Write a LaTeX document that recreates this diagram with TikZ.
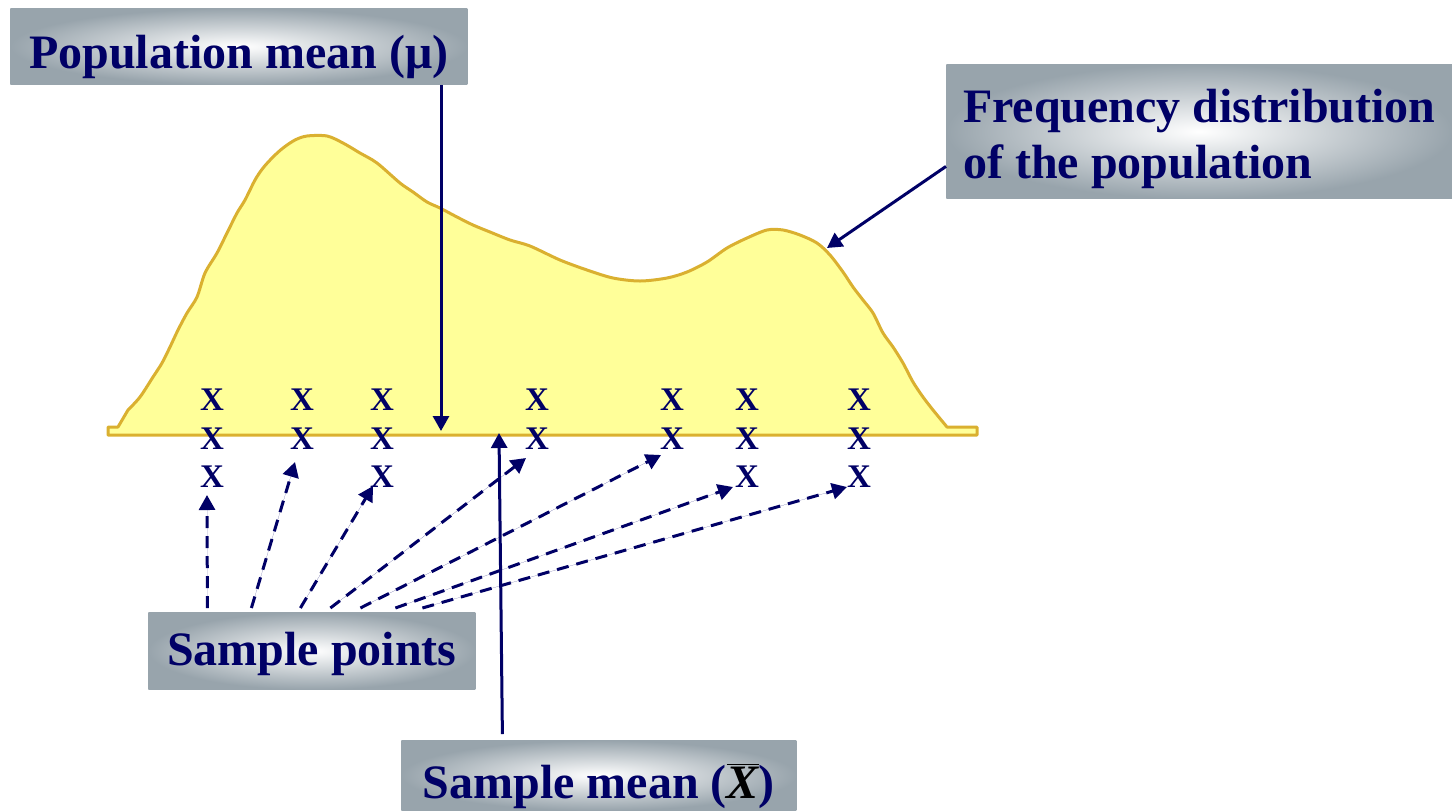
\documentclass[tikz,border=0pt]{standalone}
\usepackage{fontspec}
\setmainfont{Liberation Serif}
\usetikzlibrary{arrows.meta,calc}

\definecolor{navy}{RGB}{0,0,102}
\definecolor{boxgray}{RGB}{152,164,172}
\definecolor{curvefill}{RGB}{255,255,153}
\definecolor{curveline}{RGB}{218,176,48}

\begin{document}
\begin{tikzpicture}[x=0.5pt, y=-0.5pt, >={Triangle[length=7.5pt,width=8pt]},
  labelbox/.style={inner color=white, outer color=boxgray, anchor=north west,
    inner xsep=0pt, inner ysep=0pt, text=navy,
    font=\fontsize{24}{28}\selectfont\bfseries},
  xmark/.style={inner sep=0pt, text=navy, font=\fontsize{16.5}{18}\selectfont\bfseries},
  pointer/.style={->, line width=1.5pt, draw=navy, fill=navy},
  samplelink/.style={pointer, dash pattern=on 6pt off 4pt}]
  % picture size = 1452 x 810 px
  \useasboundingbox (0,0) rectangle (1452,810);

  % 1. Population frequency distribution
  \draw[line width=1.5pt, draw=curveline, fill=curvefill, line join=round]
    (108,435) -- (108,427) -- (118,427) -- plot[smooth] coordinates {
      (128,410) (140,397) (153,377) (162,363) (170,347) (178,330) (187,313)
      (197,297) (205,273) (217,253) (227,233) (237,213) (245,200) (255,180)
      (263,168) (273,157) (283,148) (295,140) (307,136) (327,136) (343,143)
      (360,153) (377,163) (400,183) (413,192) (427,202) (440,208) (457,217)
      (473,225) (490,232) (510,240) (530,246) (560,260) (587,270) (613,278)
      (640,281) (667,278) (687,272) (707,262) (727,248) (747,238) (767,230)
      (783,230) (800,235) (817,243) (830,255) (843,272) (853,287) (863,300)
      (873,313) (883,333) (893,347) (903,363) (913,382) (923,397) (933,410)
      (947,427)}
    -- (977,427) -- (977,435) -- cycle;

  % 2. Sample points (column x / number of marks)
  \foreach \cx/\n in {212/3, 302/2, 382/3, 537/2, 672/2, 747/3, 859/3} {
    \foreach \r in {1,...,\n} {
      \node[xmark] (x-\cx-\r) at (\cx, {400+38.5*(\r-1)}) {X};
    }
  }

  % 3. Label boxes
  \node[labelbox, minimum width=228.5pt, text height=30pt, text depth=8pt]
    (popbox) at (10,8) {Population mean (μ)};
  \node[labelbox, minimum width=253pt, align=left]
    (freqbox) at (946,64)
    {\rule{0pt}{29pt}Frequency distribution\\of the population\rule[-10pt]{0pt}{10pt}};
  \node[labelbox, minimum width=163.5pt, text height=26.5pt, text depth=12pt]
    (spbox) at (148,612) {Sample points};
  \node[labelbox, minimum width=197.5pt, text height=29pt, text depth=6pt]
    (smbox) at (401,740)
    {Sample mean ({\color{black}$\overline{\mbox{\itshape X}}$})};

  % 4. Pointers
  \coordinate (mutip) at (441,431);
  \draw[pointer] (popbox.south -| mutip) -- (mutip);
  \coordinate (xbartip) at (499,433);
  \draw[pointer] ([xshift=-48.25pt, yshift=3pt]smbox.north) -- (xbartip);
  \coordinate (peaktip) at (827,248);
  \draw[pointer] ([yshift=-17.5pt]freqbox.west) -- (peaktip);

  % 5. Sample links
  \foreach \i/\dx/\tx/\ty in {1/-52.25/207/495, 2/-30.25/295/462, 3/-5.75/373/486,
      4/9.25/526/458, 5/24.25/661/455, 6/41.75/733/487, 7/55.25/847/487} {
    \coordinate (tip\i) at (\tx,\ty);
    \draw[samplelink] ([xshift=\dx pt, yshift=2pt]spbox.north) -- (tip\i);
  }
\end{tikzpicture}
\end{document}
